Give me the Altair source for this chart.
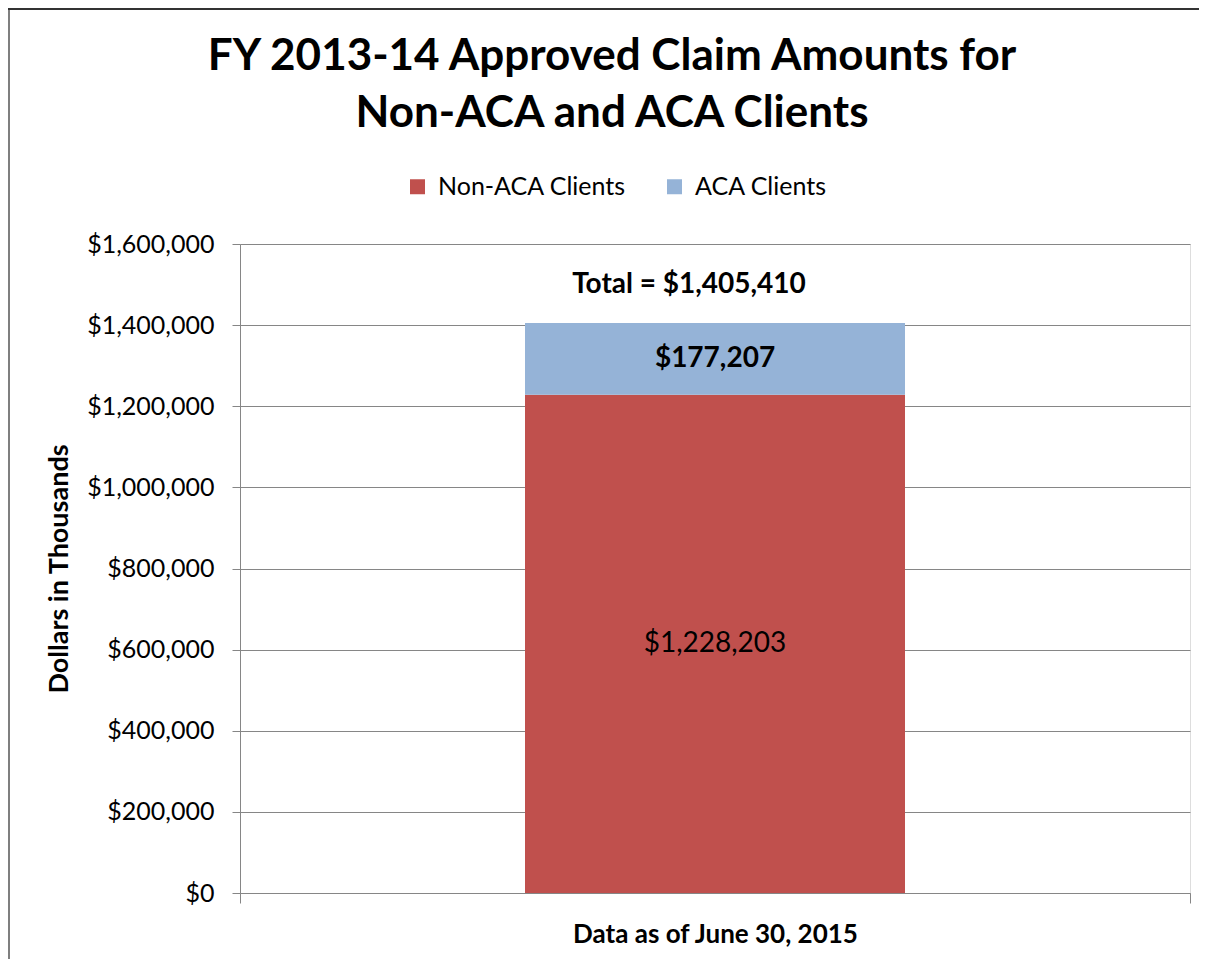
import altair as alt
import pandas as pd

# ---- data ----
categories = ["Data as of June 30, 2015"]
series = ["Non-ACA Clients", "ACA Clients"]
values = [1228203, 177207]
total_label = "Total = $1,405,410"
series_colors = ["#C0504D", "#95B3D7"]
label_weights = ["normal", "bold"]
y_ticks = [0, 200000, 400000, 600000, 800000, 1000000, 1200000, 1400000, 1600000]
title_lines = ["FY 2013-14 Approved Claim Amounts for", "Non-ACA and ACA Clients"]
y_title = "Dollars in Thousands"

rows = []
start = 0
for i, (s, v) in enumerate(zip(series, values)):
    rows.append(dict(cat=categories[0], series=s, value=v, start=start,
                     end=start + v, mid=start + v / 2, order=i))
    start += v
df = pd.DataFrame(rows)
total_df = pd.DataFrame({"cat": categories, "total": [sum(values)], "label": [total_label]})

FONT = "Lato"
GRAY = "#868686"

x_enc = alt.X(
    "cat:N", title=None,
    scale=alt.Scale(paddingInner=0, paddingOuter=0),
    axis=alt.Axis(tickBand="extent", labelAngle=0, labelFont=FONT, labelFontWeight="bold",
                  labelFontSize=26, labelColor="black", labelPadding=18, tickSize=10,
                  labelLimit=0, tickColor=GRAY, domainColor=GRAY, grid=False),
)
y_scale = alt.Scale(domain=[0, 1600000], nice=False)

bars = alt.Chart(df).mark_bar(width=alt.RelativeBandSize(0.4)).encode(
    x=x_enc,
    y=alt.Y("start:Q", scale=y_scale, axis=alt.Axis(
        values=y_ticks, format="$,.0f", title=y_title,
        titleFont=FONT, titleFontWeight="bold", titleFontSize=27, titleColor="black",
        titleX=-181, titleY=324.5, titleAngle=-90, titleAlign="center", titleBaseline="middle",
        labelFont=FONT, labelFontSize=25, labelColor="black", labelPadding=18, labelLimit=0,
        tickSize=8, tickColor=GRAY, domainColor=GRAY, gridColor=GRAY, gridWidth=1)),
    y2="end:Q",
    color=alt.Color("series:N", scale=alt.Scale(domain=series, range=series_colors),
                    legend=alt.Legend(title=None, orient="none", legendX=165, legendY=-70,
                                      direction="horizontal", symbolType="square",
                                      symbolSize=225, symbolStrokeWidth=0,
                                      labelFont=FONT, labelFontSize=25, labelColor="black",
                                      labelOffset=8, columnPadding=36, labelLimit=0)),
    order="order:Q",
)

layers = [bars]
for s, w in zip(series, label_weights):
    layers.append(
        alt.Chart(df).transform_filter(alt.datum.series == s)
        .mark_text(font=FONT, fontSize=28, fontWeight=w, color="black")
        .encode(x="cat:N", y=alt.Y("mid:Q", scale=y_scale), text=alt.Text("value:Q", format="$,.0f"))
    )

layers.append(
    alt.Chart(total_df).mark_text(font=FONT, fontSize=28, fontWeight="bold", color="black",
                                  dy=-38, dx=-26)
    .encode(x="cat:N", y=alt.Y("total:Q", scale=y_scale), text="label:N")
)

# chart frame lines
layers.append(
    alt.Chart(total_df).mark_rule(color="#7f7f7f", strokeWidth=2)
    .encode(x=alt.value(-231), y=alt.value(-236), y2=alt.value(715))
)
layers.append(
    alt.Chart(total_df).mark_rule(color="#333333", strokeWidth=2)
    .encode(x=alt.value(-232), x2=alt.value(959), y=alt.value(-235))
)

chart = alt.layer(*layers).properties(
    width=950, height=649,
    autosize=alt.AutoSizeParams(type="none"),
    padding={"left": 232, "top": 236, "right": 9, "bottom": 66},
    title=alt.TitleParams(text=title_lines, font=FONT, fontSize=44, fontWeight="bold",
                          color="black", anchor="middle", frame="group", dx=-103,
                          lineHeight=57, offset=-129),
).configure_view(stroke=None).configure(font=FONT)

chart.save("out.html", embed_options={"renderer": "svg", "actions": False})
